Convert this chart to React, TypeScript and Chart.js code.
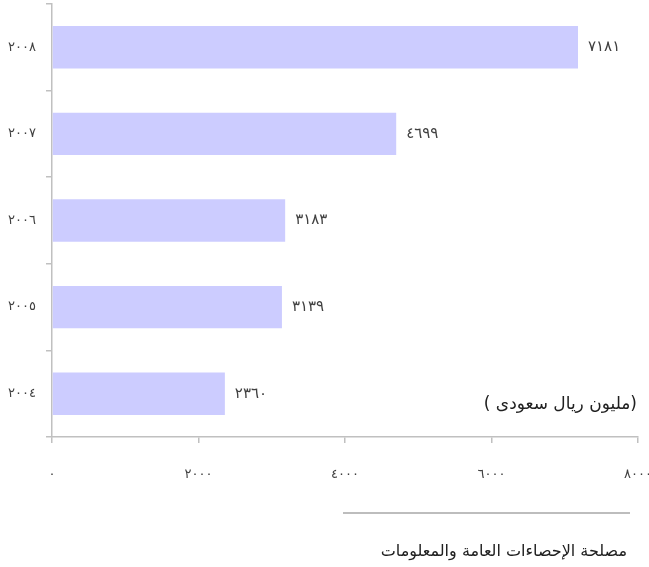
import React, { useEffect, useRef } from "react";
import { Chart, registerables } from "chart.js";

Chart.register(...registerables);

const years = ["٢٠٠٨", "٢٠٠٧", "٢٠٠٦", "٢٠٠٥", "٢٠٠٤"];
const values = [7181, 4699, 3183, 3139, 2360];
const xMin = 0;
const xMax = 8000;
const xStep = 2000;
const unitText = "(مليون ريال سعودى )";
const sourceText = "مصلحة الإحصاءات العامة والمعلومات";

const FONT = "'DejaVu Sans', 'Noto Sans', sans-serif";

const toArabicDigits = (n: number | string) =>
  String(n).replace(/[0-9]/g, (d) => "٠١٢٣٤٥٦٧٨٩"[Number(d)]);

const barLabels = {
  id: "barLabels",
  afterDatasetsDraw(chart: any) {
    const ctx = chart.ctx;
    const meta = chart.getDatasetMeta(0);
    ctx.save();
    ctx.fillStyle = "#404040";
    ctx.font = `15px ${FONT}`;
    ctx.textAlign = "left";
    ctx.textBaseline = "middle";
    meta.data.forEach((bar: any, i: number) => {
      ctx.fillText(toArabicDigits(values[i]), bar.x + 10, bar.y);
    });
    ctx.restore();
  },
};

export default function App() {
  const ref = useRef<HTMLCanvasElement | null>(null);
  useEffect(() => {
    if (!ref.current) return;
    const chart = new Chart(ref.current, {
      type: "bar",
      data: {
        labels: years,
        datasets: [
          {
            data: values,
            backgroundColor: "#ccccff",
            borderWidth: 0,
            barPercentage: 0.49,
            categoryPercentage: 1,
          },
        ],
      },
      options: {
        indexAxis: "y",
        animation: false,
        responsive: false,
        layout: { padding: { top: 4, right: 11, left: 0, bottom: 0 } },
        plugins: { legend: { display: false }, tooltip: { enabled: false } },
        scales: {
          x: {
            min: xMin,
            max: xMax,
            ticks: {
              stepSize: xStep,
              padding: 24,
              color: "#404040",
              font: { family: FONT, size: 13 },
              maxRotation: 0,
              callback: (v: any) => toArabicDigits(v),
            },
            grid: {
              drawOnChartArea: false,
              drawTicks: true,
              tickLength: 6,
              color: "#c0c0c0",
              lineWidth: 1.5,
            },
            border: { color: "#c0c0c0", width: 1.5 },
            afterFit: (s: any) => {
              s.height = 130;
              s.paddingLeft = 0;
              s.paddingRight = 0;
            },
          },
          y: {
            ticks: {
              padding: 10,
              color: "#404040",
              font: { family: FONT, size: 13 },
            },
            grid: {
              drawOnChartArea: false,
              drawTicks: true,
              tickLength: 6,
              color: "#c0c0c0",
              lineWidth: 1.5,
            },
            border: { color: "#c0c0c0", width: 1.5 },
            afterFit: (s: any) => {
              s.width = 52;
              s.paddingTop = 0;
              s.paddingBottom = 0;
            },
          },
        },
      },
      plugins: [barLabels],
    });
    return () => chart.destroy();
  }, []);

  return (
    <div style={{ position: "fixed", left: 0, top: 0, width: 649, height: 567, background: "#fff" }}>
      <canvas ref={ref} width={649} height={567} style={{ position: "absolute", left: 0, top: 0 }} />
      <div
        dir="rtl"
        style={{
          position: "absolute",
          right: 12,
          top: 391,
          fontFamily: FONT,
          fontSize: 17,
          color: "#202020",
          whiteSpace: "nowrap",
          lineHeight: "24px",
        }}
      >
        {unitText}
      </div>
      <div
        style={{
          position: "absolute",
          left: 343,
          top: 512,
          width: 287,
          height: 2,
          background: "#bdbdbd",
        }}
      />
      <div
        dir="rtl"
        style={{
          position: "absolute",
          right: 22,
          top: 539,
          fontFamily: FONT,
          fontSize: 16,
          color: "#202020",
          whiteSpace: "nowrap",
          lineHeight: "24px",
        }}
      >
        {sourceText}
      </div>
    </div>
  );
}
